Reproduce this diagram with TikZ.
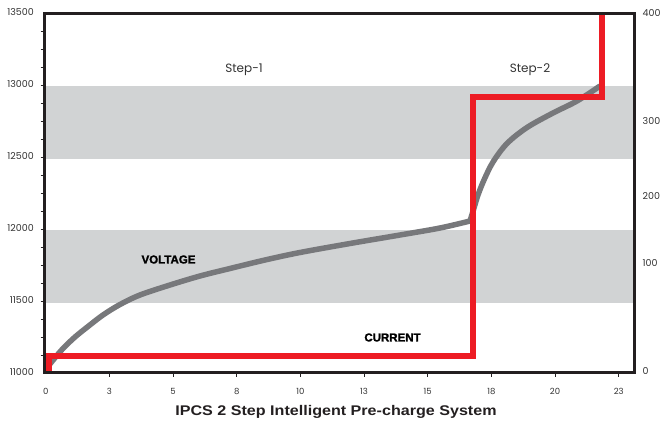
\documentclass[tikz,border=0pt]{standalone}
\usepackage{fontspec}
\setmainfont{Poppins}
\newfontfamily\titlefont{Liberation Sans}[FakeStretch=1.15]
\newfontfamily\heavyfont{Liberation Sans}[BoldFeatures={FakeBold=1.5}]
\definecolor{bandgray}{HTML}{D1D3D4}
\definecolor{curvegray}{HTML}{77787B}
\definecolor{currred}{HTML}{ED1C24}
\definecolor{framec}{HTML}{231F20}
\definecolor{labc}{HTML}{333333}
\begin{document}
\begin{tikzpicture}[x=1pt,y=-1pt,
  band/.style={fill=bandgray,draw=none},
  frame/.style={draw=framec,line width=3pt,line join=miter},
  tick/.style={draw=framec,line width=0.8pt},
  vline/.style={draw=curvegray,line width=5.5pt,line join=round},
  iline/.style={draw=currred,line width=6pt,line join=miter},
  ylab/.style={anchor=east,inner sep=0pt,text=labc,font=\fontsize{9.5}{10}\selectfont},
  rlab/.style={anchor=west,inner sep=0pt,text=labc,font=\fontsize{9.5}{10}\selectfont},
  xlab/.style={anchor=center,inner sep=0pt,text=labc,font=\fontsize{8.5}{9}\selectfont},
  steplab/.style={anchor=center,inner sep=0pt,text=labc,font=\fontsize{12}{13}\selectfont},
  heavylab/.style={anchor=center,inner sep=0pt,text=black,font=\heavyfont\bfseries\fontsize{11.5}{12}\selectfont},
  titlelab/.style={anchor=center,inner sep=0pt,text=framec,font=\titlefont\bfseries\fontsize{14}{15}\selectfont}]
\useasboundingbox (0,0) rectangle (665,422);
% bands
\fill[band] (44,86) rectangle (636,159.3);
\fill[band] (44,230) rectangle (636,303.3);
% voltage curve
\draw[vline] plot[smooth,tension=0.55] coordinates {(46,369) (54,359) (63,348.5) (75,337) (88,326.5) (103,315) (120,304.5) (140,295) (170,285) (200,276) (230,268.5) (265,260) (300,252.5) (350,243.5) (400,235) (440,228) (470,221)}
  -- plot[smooth,tension=0.55] coordinates {(470,221) (474,208) (478,195) (484,180) (493,162) (507,143.5) (527,127.5) (553,113) (577,101) (600,86)};
% current line
\coordinate (c0) at (49,373);
\coordinate (c1) at (49,356);
\coordinate (c2) at (473,356);
\coordinate (c3) at (473,97.5);
\coordinate (c4) at (601.5,97.5);
\coordinate (c5) at (601.5,13);
\draw[iline] (c0) -- (c1) -- (c2) -- (c3) -- (c4) -- (c5);
% frame
\draw[frame] (44,13.5) rectangle (634.5,373);
% left ticks
\foreach \k in {1,...,19} \draw[tick] (40.5,{13.5+\k*17.975}) -- (44,{13.5+\k*17.975});
% bottom ticks
\foreach \k in {1,...,9} \draw[tick] ({45.7+\k*63.67},373) -- ({45.7+\k*63.67},377);
% left labels
\foreach \v [count=\i from 0] in {13500,13000,12500,12000,11500,11000}
  \node[ylab] (yl\i) at (34,{12.5+\i*72}) {\v};
% right labels
\node[rlab] (r400) at (642.5,13) {400};
\node[rlab] (r300) at (642.5,121) {300};
\node[rlab] (r200) at (642.5,196) {200};
\node[rlab] (r100) at (642.5,263) {100};
\node[rlab] (r0) at (642.5,371) {0};
% bottom labels
\foreach \v [count=\i from 0] in {0,3,5,8,10,13,15,18,20,23}
  \node[xlab] (xl\i) at ({45.7+\i*63.67},391.5) {\v};
% texts
\node[steplab] (s1) at (244,70) {Step-1};
\node[steplab] (s2) at (530,70) {Step-2};
\node[heavylab] (volt) at (168.5,259.5) {VOLTAGE};
\node[heavylab] (curr) at (392.5,337.5) {CURRENT};
\node[titlelab] (title) at (336,412) {IPCS 2 Step Intelligent Pre-charge System};
\end{tikzpicture}
\end{document}
